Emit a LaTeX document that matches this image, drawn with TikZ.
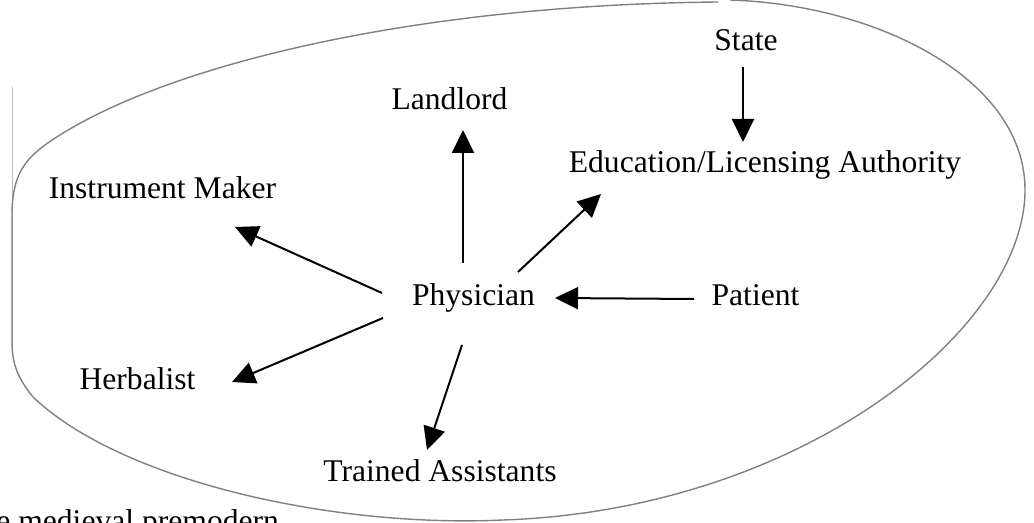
\documentclass[tikz,border=0pt]{standalone}
\usepackage{fontspec}
\setmainfont{Liberation Serif}
\usetikzlibrary{arrows.meta}

\begin{document}
\begin{tikzpicture}[x=0.5pt,y=-0.5pt,
    lbl/.style={inner sep=0pt,anchor=base,font=\fontsize{15.8}{19}\selectfont},
    arr/.style={line width=1pt,-{Triangle[length=11.5pt,width=11pt]}},
    rim/.style={draw=gray,line width=0.7pt}]
\useasboundingbox (0,0) rectangle (1034,523);

% ===== Outline =====
\draw[draw=gray!55,line width=0.5pt] (12,87) -- (12,350);
\draw[rim] (730,0) .. controls (880,5) and (1025,80) .. (1025,190)
    .. controls (1025,330) and (800,510) .. (503,520)
    .. controls (330,528) and (120,480) .. (33,397)
    .. controls (15,375) and (12,360) .. (12,340)
    -- (12,215)
    .. controls (12,175) and (25,160) .. (45,145)
    .. controls (150,70) and (400,5) .. (718,2);

% ===== Labels =====
\node[lbl] (state) at (746,51) {State};
\node[lbl] (land) at (449.5,110) {Landlord};
\node[lbl] (edu) at (765,173) {Education/Licensing Authority};
\node[lbl] (instr) at (162.5,199) {Instrument Maker};
\node[lbl] (phys) at (473.5,306) {Physician};
\node[lbl] (pat) at (755.5,306) {Patient};
\node[lbl] (herb) at (137.5,390) {Herbalist};
\node[lbl] (train) at (440,482) {Trained Assistants};
\node[lbl,anchor=base west] (note) at (-4,532) {e medieval premodern};

% ===== Arrows =====
\draw[arr] ([shift={(-3,16)}]state.base) -- ([shift={(-22,-31)}]edu.base);
\draw[arr] ([shift={(-10.5,-43)}]phys.base) -- ([shift={(13.5,20)}]land.base);
\draw[arr] ([shift={(44.5,-34)}]phys.base) -- ([shift={(-164,21)}]edu.base);
\draw[arr] ([shift={(-91.5,-13)}]phys.base) -- ([shift={(72.5,28)}]instr.base);
\draw[arr] ([shift={(-61.5,-7)}]pat.base) -- ([shift={(81.5,-8)}]phys.base);
\draw[arr] ([shift={(-90.5,12)}]phys.base) -- ([shift={(94.5,-8)}]herb.base);
\draw[arr] ([shift={(-11.5,39)}]phys.base) -- ([shift={(-13,-32)}]train.base);

\end{tikzpicture}
\end{document}
